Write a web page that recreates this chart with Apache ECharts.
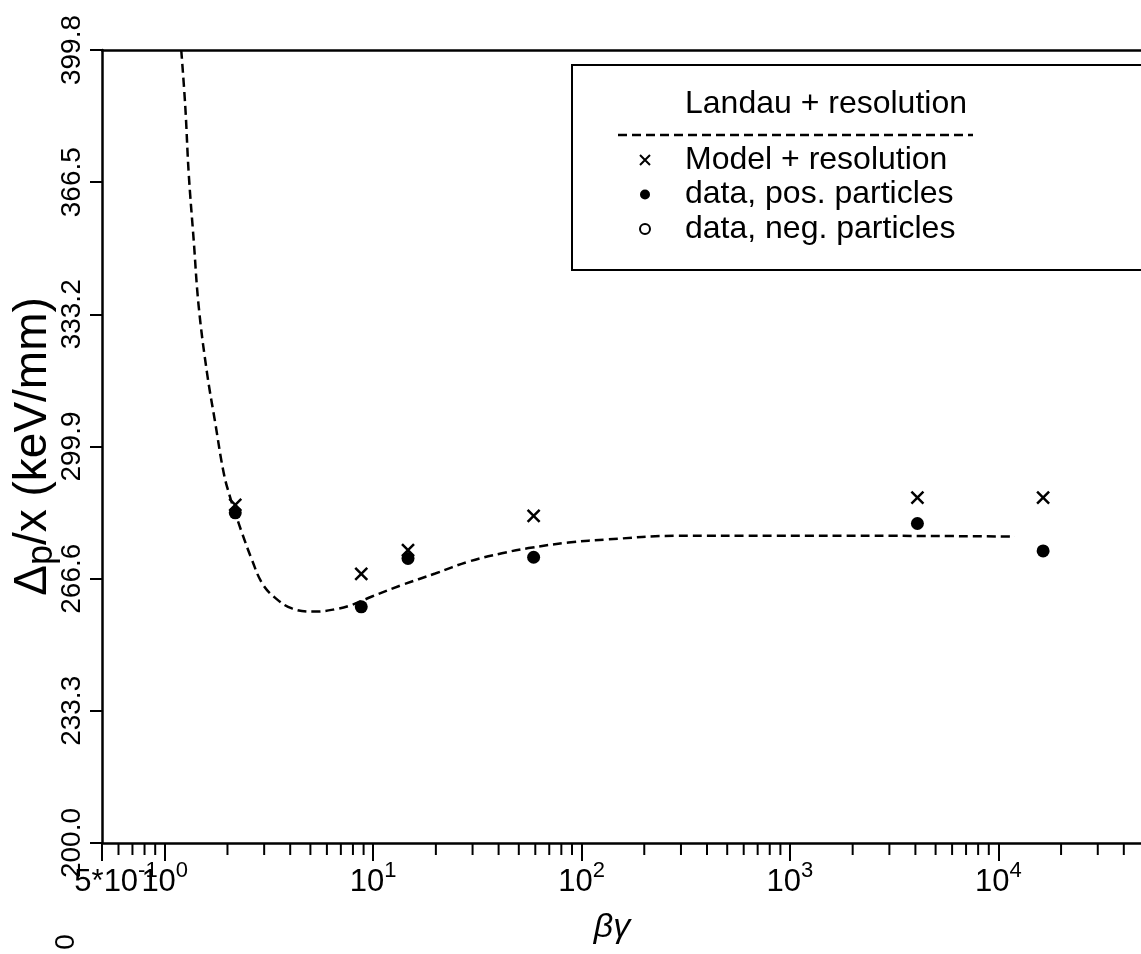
<!DOCTYPE html>
<html>
<head>
<meta charset="utf-8">
<script src="https://cdn.jsdelivr.net/npm/echarts@6/dist/echarts.min.js"></script>
<style>
  html, body { margin: 0; padding: 0; background: #fff; }
  #chart { width: 1141px; height: 954px; }
</style>
</head>
<body>
<div id="chart"></div>
<script>
const FONT = "'Liberation Sans', 'Arial', sans-serif";

// Measured points: beta*gamma and most probable energy loss per unit length (keV/mm)
const betaGamma = [2.18, 8.77, 14.7, 58.9, 4090, 16400];
const modelValues = [285.2, 267.8, 273.8, 282.4, 287.0, 287.0];
const posValues = [283.2, 259.5, 271.7, 272.0, 280.5, 273.6];
const negValues = [];

// Landau + resolution prediction
const landauX = [1.20, 1.255, 1.303, 1.377, 1.456, 1.596, 1.748, 1.919, 2.057, 2.181,
  2.349, 2.623, 2.929, 3.332, 4.079, 5.277, 6.58, 7.91, 9.87, 13.75,
  19.85, 28.7, 41.5, 55.7, 86.6, 134.8, 281, 848, 2560, 12010];
const landauY = [399.8, 385.5, 368.8, 351.9, 335.1, 318.4, 305.8, 293.2, 287.2, 283.1,
  278.1, 271.3, 265.5, 262.1, 259.1, 258.3, 258.9, 260.0, 262.1, 265.0,
  267.9, 270.9, 273.0, 274.3, 275.7, 276.5, 277.4, 277.4, 277.4, 277.2];

// Axis ticks and labels
const xTickValues = [0.5, 1, 10, 100, 1000, 10000];
const xTickBase = ['5*10', '10', '10', '10', '10', '10'];
const xTickPower = ['-1', '0', '1', '2', '3', '4'];
const xMinorTicks = [0.6, 0.7, 0.8, 0.9,
  2, 3, 4, 5, 6, 7, 8, 9,
  20, 30, 40, 50, 60, 70, 80, 90,
  200, 300, 400, 500, 600, 700, 800, 900,
  2000, 3000, 4000, 5000, 6000, 7000, 8000, 9000,
  20000, 30000, 40000];
const yTickLabels = ['200.0', '233.3', '266.6', '299.9', '333.2', '366.5', '399.8'];

const X_MIN = 0.5, X_MAX = 50000;

const chart = echarts.init(document.getElementById('chart'), null, { renderer: 'canvas' });

function tickIndex(v) {
  return xTickValues.findIndex(t => Math.abs(Math.log10(t) - Math.log10(v)) < 1e-6);
}
// decade labels 10^0 ... 10^4 on the main axis
function decadeLabel(v) {
  const i = tickIndex(v);
  if (i < 1) return '';
  return '{b|' + xTickBase[i] + '}{s|' + xTickPower[i] + '}';
}
// the 5*10^-1 label at the lower end of the range
function lowEndLabel(v) {
  const i = tickIndex(v);
  if (i !== 0) return '';
  return '{pad|}{b|' + xTickBase[i] + '}{s|' + xTickPower[i] + '}';
}
function yLabel(v) {
  const s = yTickLabels.find(t => Math.abs(parseFloat(t) - v) < 0.01);
  return s || '';
}

const xRich = {
  b: { fontFamily: FONT, fontSize: 31, lineHeight: 38, color: '#000', verticalAlign: 'bottom' },
  s: { fontFamily: FONT, fontSize: 22, color: '#000', verticalAlign: 'top' },
  pad: { width: 28 }
};
const legendText = { fontFamily: FONT, fontSize: 32, color: '#000' };

chart.setOption({
  animation: false,
  backgroundColor: '#fff',
  grid: { left: 102, top: 50, width: 1042, height: 793, containLabel: false, outerBoundsMode: 'none' },
  xAxis: [{
    type: 'log', logBase: 10, min: X_MIN, max: X_MAX,
    axisLine: { lineStyle: { color: '#000', width: 2.5 } },
    axisTick: { length: 18, lineStyle: { color: '#000', width: 2 } },
    splitLine: { show: false },
    axisLabel: { margin: 17, showMinLabel: true, showMaxLabel: false, formatter: decadeLabel, rich: xRich },
    name: 'βγ', nameLocation: 'middle', nameGap: 68, nameMoveOverlap: false,
    nameTextStyle: { fontFamily: FONT, fontStyle: 'italic', fontSize: 34, color: '#000', padding: [0, 22, 0, 0] }
  }, {
    type: 'log', logBase: 10, min: X_MIN, max: X_MAX, position: 'top',
    axisLine: { lineStyle: { color: '#000', width: 2.5 } },
    axisTick: { show: false }, axisLabel: { show: false }, splitLine: { show: false }
  }, {
    type: 'log', logBase: 10, min: X_MIN, max: X_MAX, position: 'bottom', offset: 0,
    axisLine: { show: false }, axisTick: { show: false }, splitLine: { show: false },
    axisLabel: { margin: 17, showMinLabel: true, showMaxLabel: false, formatter: lowEndLabel, rich: xRich }
  }],
  yAxis: {
    type: 'value', min: 200, max: 399.8, interval: 33.3,
    axisLine: { show: true, lineStyle: { color: '#000', width: 2.5 } },
    axisTick: { show: true, length: 12, lineStyle: { color: '#000', width: 2 } },
    splitLine: { show: false },
    axisLabel: { rotate: 90, margin: 16, formatter: yLabel, fontFamily: FONT, fontSize: 28, color: '#000' },
    name: '{a|Δ}{p|p}{a|/x (keV/mm)}', nameLocation: 'middle', nameGap: 42, nameRotate: 90,
    nameMoveOverlap: false,
    nameTextStyle: {
      rich: {
        a: { fontFamily: FONT, fontSize: 46, color: '#000', verticalAlign: 'top', lineHeight: 50 },
        p: { fontFamily: FONT, fontSize: 36, color: '#000', verticalAlign: 'bottom' }
      }
    }
  },
  legend: [{
    left: 680, top: 88, orient: 'vertical', padding: 0, selectedMode: false,
    itemWidth: 0, itemHeight: 10,
    data: [{ name: 'Landau + resolution', icon: 'rect', itemStyle: { opacity: 0 } }],
    textStyle: legendText
  }, {
    left: 639, top: 144, orient: 'vertical', padding: 0, selectedMode: false,
    itemWidth: 70, itemHeight: 10, itemGap: 2.5,
    data: ['Model + resolution', 'data, pos. particles', 'data, neg. particles'],
    textStyle: legendText
  }],
  graphic: [
    { type: 'rect', z: 1, shape: { x: 572, y: 65, width: 700, height: 205 },
      style: { fill: '#fff', stroke: '#000', lineWidth: 2 } },
    { type: 'line', z: 5, shape: { x1: 618, y1: 135, x2: 973, y2: 135 },
      style: { stroke: '#000', lineWidth: 2.5, lineDash: [9, 5] } },
    { type: 'text', z: 5, x: 66, y: 942, rotation: Math.PI / 2,
      style: { text: '0', fontFamily: FONT, fontSize: 28, fill: '#000', align: 'center', verticalAlign: 'middle' } }
  ],
  series: [{
    name: 'Landau + resolution', type: 'line', smooth: 0.4, symbol: 'none',
    lineStyle: { color: '#000', width: 2.5, type: [9, 5] },
    itemStyle: { color: '#000' },
    data: landauX.map((x, i) => [x, landauY[i]])
  }, {
    name: 'Model + resolution', type: 'scatter', z: 3,
    symbol: 'path://M0,0L10,10M10,0L0,10', symbolSize: 12,
    itemStyle: { color: '#000', borderColor: '#000', borderWidth: 2.5, opacity: 1 },
    data: betaGamma.map((x, i) => [x, modelValues[i]])
  }, {
    name: 'data, pos. particles', type: 'scatter', z: 4,
    symbol: 'circle', symbolSize: 13,
    itemStyle: { color: '#000', opacity: 1 },
    data: betaGamma.map((x, i) => [x, posValues[i]])
  }, {
    name: 'data, neg. particles', type: 'scatter', z: 4,
    symbol: 'emptyCircle', symbolSize: 9,
    itemStyle: { color: '#000', borderWidth: 1.5, opacity: 1 },
    data: negValues
  }, {
    // minor ticks of the logarithmic beta*gamma axis
    name: 'x minor ticks', type: 'custom', silent: true, clip: false, z: 5,
    data: xMinorTicks.map(v => [v, 200]),
    encode: { x: 0, y: 1 },
    renderItem: (params, api) => {
      const p = api.coord([api.value(0), api.value(1)]);
      return {
        type: 'line',
        shape: { x1: p[0], y1: p[1], x2: p[0], y2: p[1] + 12 },
        style: { stroke: '#000', lineWidth: 2 }
      };
    }
  }]
});
</script>
</body>
</html>
